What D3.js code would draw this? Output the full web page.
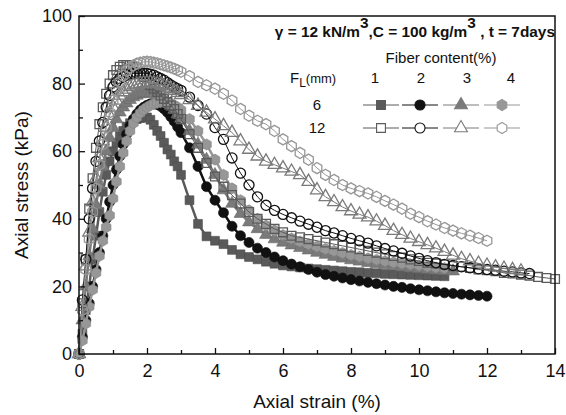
<!DOCTYPE html>
<html>
<head>
<meta charset="utf-8">
<script src="https://cdn.jsdelivr.net/npm/d3@7"></script>
<style>
body { margin: 0; background: #fff; }
text { font-family: "Liberation Sans", Arial, sans-serif; fill: #111; }
</style>
</head>
<body>
<script>
// axial strain (%) shared by every series; each series below stops where its test ended
const strain = [0,0.1,0.2,0.3,0.4,0.5,0.6,0.7,0.8,0.9,1.0,1.1,1.2,1.3,1.4,1.5,1.6,1.7,1.8,1.9,2.0,
  2.1,2.2,2.3,2.4,2.5,2.6,2.7,2.8,2.9,3.0,
  3.25,3.5,3.75,4,4.25,4.5,4.75,5,5.25,5.5,5.75,6,6.25,6.5,6.75,7,7.25,7.5,7.75,8,
  8.25,8.5,8.75,9,9.25,9.5,9.75,10,10.25,10.5,10.75,11,11.25,11.5,11.75,12,12.25,12.5,12.75,13,
  13.25,13.5,13.75,14];

// axial stress (kPa), F_L = 6 mm
const fl6_1 = [0,6,13,20,28,35,42,48,53,57,60,62.5,64.5,66,67.3,68.3,69,69.5,69.8,70,70,
  69.3,67.8,66,64.5,62.5,60.5,59,57,55.5,53,
  45.5,38.5,34.8,33.5,32.5,30.8,29.5,28.7,28,27.3,26.7,26.2,25.9,25.6,25.3,25.1,24.9,24.7,24.5,24.3,
  24.2,24,23.9,23.7,23.6,23.5,23.4,23.3,23.2,23.1,23];
const fl6_2 = [0,5,10,15,20,25,30,35,40,45,50,54.5,58.5,62,65,67.5,69.5,71,72.2,73,73.6,
  74,74,73.8,73.3,72.5,71.5,70.2,68.8,67.2,65.5,
  61,55.5,49.5,45.5,41.8,37.8,35,33,31.3,30,28.7,27.6,26.6,25.8,25,24.2,23.5,23,22.5,22,
  21.6,21.2,20.8,20.4,20,19.7,19.3,19,18.7,18.4,18.1,17.9,17.7,17.5,17.3,17.1];
const fl6_3 = [0,10,20,29,37,44,50,55.5,60,64,67,69.5,71.5,73,74.2,75.2,76,76.5,76.9,77.1,77.2,
  77.2,77,76.6,76,75.3,74.5,73.5,72.3,71,69.7,
  66,62,57.5,53,48.5,44.5,41.5,39,37,35.3,34,33,32.2,31.4,30.7,30,29.4,28.8,28.3,27.8,
  27.4,27,26.6,26.3,26,25.7,25.4,25.2,25,24.8,24.6,24.5];
const fl6_4 = [0,4,9,14,19,24,29,33.5,37.5,41,46,51,55.5,59.5,63,66,68.3,70,71.3,72.3,73,
  73.6,74,74.3,74.5,74.5,74.4,74.1,73.6,73,72.2,
  69.5,66,62,57.5,53,49,45.5,42.5,40,38,36.5,35.2,34.2,33.3,32.5,31.8,31.1,30.5,29.9,29.3,
  28.8,28.3,27.9,27.5,27.1,26.8,26.5,26.2,25.9,25.6,25.4];

// axial stress (kPa), F_L = 12 mm
const fl12_1 = [0,15,28,43,52,61,68,73,77,80,82.5,84,85,85.5,85.5,85.5,85,84.5,83.5,82,80.5,
  79.5,78.5,77.5,76.5,75.5,74.5,73.5,72.5,71,69.5,
  65,61,56.5,52.5,49.5,47,44.5,42,40,38.5,37,36,35,34.5,34,33.5,33,32.5,32,31.5,
  31,30.5,30,29.5,29,28.5,28,27.5,27,26.8,26.5,26,25.8,25.5,25,24.8,24.5,24,23.8,23.5,
  23.2,22.8,22.5,22.2];
const fl12_2 = [0,16,28,40,49,57,63,68.5,73,76.5,79,80.5,81.5,82,82.5,82.8,83,83,83,83,83,
  82.8,82.5,82,81.5,81,80.3,79.6,79,78.5,78,
  76,73.5,71,67,63.5,58,53.5,50,46.5,44,42.5,41.3,40.3,39.3,38.4,37.5,36.5,35.8,35,34.2,
  33.5,32.8,32,31.2,30.5,29.8,29,28.3,27.6,27,26.5,26.2,25.8,25.5,25.2,25,24.8,24.5,24.3,24,
  23.8];
const fl12_3 = [0,14,26,36,45,52,58,63,67,70.5,73,75,76.5,77.5,78.3,79,79.5,79.8,80,80.2,80.3,
  80.3,80.2,80,79.7,79.3,78.9,78.4,77.9,77.3,76.7,
  75.2,73.5,71.5,69.5,67.5,65.5,63,60.5,58.5,57,56,55,54,53,51,48.5,46.5,45,43.5,42.3,
  41.3,40.5,39.3,38,36.5,35.3,34.2,33.2,32.3,31.3,30.3,29.2,28.2,27.5,26.8,26.2,25.7,25.3,24.9,24.5];
const fl12_4 = [0,13,25,34,42,49,56,62,67,71.5,75,78,80.5,82.3,83.7,84.7,85.4,85.9,86.2,86.4,86.5,
  86.4,86.2,86,85.7,85.4,85.1,84.8,84.4,84,83.5,
  82.2,80.5,79.5,78.5,77,75,72.5,70.5,69,68,66,63.5,61.5,59.5,57.5,55,53,51.5,50,49,
  48.2,47.5,46.5,45.3,44.2,43,41.5,40.5,39.3,38.3,37.3,36.5,35.7,35,34.3,33.5];

const xTicks = [0,2,4,6,8,10,12,14];
const yTicks = [0,20,40,60,80,100];
const fiberContents = ['1','2','3','4'];
const fiberLengths = ['6','12'];

const W = 566, H = 415;
const svg = d3.select('body').append('svg').attr('width', W).attr('height', H);

const x = d3.scaleLinear().domain([0, 14]).range([79, 555]);
const y = d3.scaleLinear().domain([0, 100]).range([354, 16]);

// hexagon marker (d3 has none)
const symbolHexagon = {
  draw(ctx, size) {
    const r = Math.sqrt(size / (3 * Math.sqrt(3) / 2));
    for (let i = 0; i < 6; i++) {
      const a = -Math.PI / 2 + i * Math.PI / 3;
      if (i === 0) ctx.moveTo(r * Math.cos(a), r * Math.sin(a));
      else ctx.lineTo(r * Math.cos(a), r * Math.sin(a));
    }
    ctx.closePath();
  }
};

const shapes = [d3.symbolSquare, d3.symbolCircle, d3.symbolTriangle, symbolHexagon];
const sizes = [78, 80, 72, 80];
const greys = ['#5a5a5a', '#111', '#7a7a7a', '#979797'];

const series = [
  { vals: fl6_1, col: 0, open: false }, { vals: fl6_2, col: 1, open: false },
  { vals: fl6_3, col: 2, open: false }, { vals: fl6_4, col: 3, open: false },
  { vals: fl12_1, col: 0, open: true }, { vals: fl12_2, col: 1, open: true },
  { vals: fl12_3, col: 2, open: true }, { vals: fl12_4, col: 3, open: true }
];

const line = d3.line().x(d => x(d[0])).y(d => y(d[1]));

const plot = svg.append('g');
series.forEach(s => {
  const pts = s.vals.map((v, i) => [strain[i], v]);
  const c = greys[s.col];
  plot.append('path').attr('d', line(pts))
    .attr('fill', 'none').attr('stroke', c).attr('stroke-width', s.open ? 1 : 2.5);
  plot.append('g').selectAll('path').data(pts).join('path')
    .attr('transform', d => `translate(${x(d[0])},${y(d[1])})`)
    .attr('d', d3.symbol(shapes[s.col], sizes[s.col]))
    .attr('fill', s.open ? 'none' : c)
    .attr('stroke', s.open ? c : d3.color(c).darker(0.4))
    .attr('stroke-width', s.open ? 1.3 : 0.6);
});

// axes, ticks inward
const gx = svg.append('g').attr('transform', 'translate(0,354)');
gx.call(d3.axisBottom(x).tickValues(xTicks).tickSize(-6).tickPadding(10));
gx.append('g').call(d3.axisBottom(x).tickValues([1,3,5,7,9,11,13]).tickSize(-4).tickFormat(''));
const gy = svg.append('g').attr('transform', 'translate(79,0)');
gy.call(d3.axisLeft(y).tickValues(yTicks).tickSize(-6).tickPadding(7));
gy.append('g').call(d3.axisLeft(y).tickValues([10,30,50,70,90]).tickSize(-4).tickFormat(''));
svg.selectAll('.domain').remove();
svg.selectAll('.tick line').attr('stroke', '#111').attr('stroke-width', 1.3);
svg.selectAll('.tick text').attr('font-size', 18).attr('font-family', '"Liberation Sans", Arial, sans-serif').attr('fill', '#111');

svg.append('rect').attr('x', 79).attr('y', 16).attr('width', 476).attr('height', 338)
  .attr('fill', 'none').attr('stroke', '#111').attr('stroke-width', 1.5);

svg.append('text').attr('x', 317).attr('y', 408).attr('text-anchor', 'middle')
  .attr('font-size', 19).text('Axial strain (%)');
svg.append('text').attr('transform', 'translate(28,185) rotate(-90)').attr('text-anchor', 'middle')
  .attr('font-size', 19).text('Axial stress (kPa)');

// title with superscripts, slightly widened like the source image
const title = svg.append('text').attr('transform', 'translate(555,37) scale(1.1,1)')
  .attr('text-anchor', 'end').attr('font-size', 14).attr('font-weight', 'bold');
title.append('tspan').text('γ = 12 kN/m');
title.append('tspan').attr('dy', -9).text('3');
title.append('tspan').attr('dy', 9).text(',C = 100 kg/m');
title.append('tspan').attr('dy', -9).text('3');
title.append('tspan').attr('dy', 9).text(' , t = 7days');

// legend
const lg = svg.append('g');
lg.append('text').attr('x', 441).attr('y', 63).attr('text-anchor', 'middle')
  .attr('font-size', 15).text('Fiber content(%)');
const fl = lg.append('text').attr('x', 290).attr('y', 83).attr('font-size', 15);
fl.append('tspan').text('F');
fl.append('tspan').attr('dy', 4).attr('font-size', 12).text('L');
fl.append('tspan').attr('dy', -4).attr('font-size', 13).text('(mm)');
const colX = [381, 420, 461, 502];
const headX = [375, 421, 467, 511];
fiberContents.forEach((t, i) => {
  lg.append('text').attr('x', headX[i]).attr('y', 83).attr('text-anchor', 'middle')
    .attr('font-size', 15).text(t);
});
const rowY = [105, 128];
fiberLengths.forEach((t, r) => {
  lg.append('text').attr('x', 317).attr('y', rowY[r] + 5).attr('text-anchor', 'middle')
    .attr('font-size', 15).text(t);
  colX.forEach((cx, i) => {
    const c = greys[i];
    lg.append('line').attr('x1', cx - 18).attr('x2', cx + 18)
      .attr('y1', rowY[r]).attr('y2', rowY[r]).attr('stroke', c).attr('stroke-width', 1);
    lg.append('path').attr('transform', `translate(${cx},${rowY[r]})`)
      .attr('d', d3.symbol(shapes[i], sizes[i]))
      .attr('fill', r === 0 ? c : '#fff')
      .attr('stroke', c).attr('stroke-width', 1.1);
  });
});
</script>
</body>
</html>
